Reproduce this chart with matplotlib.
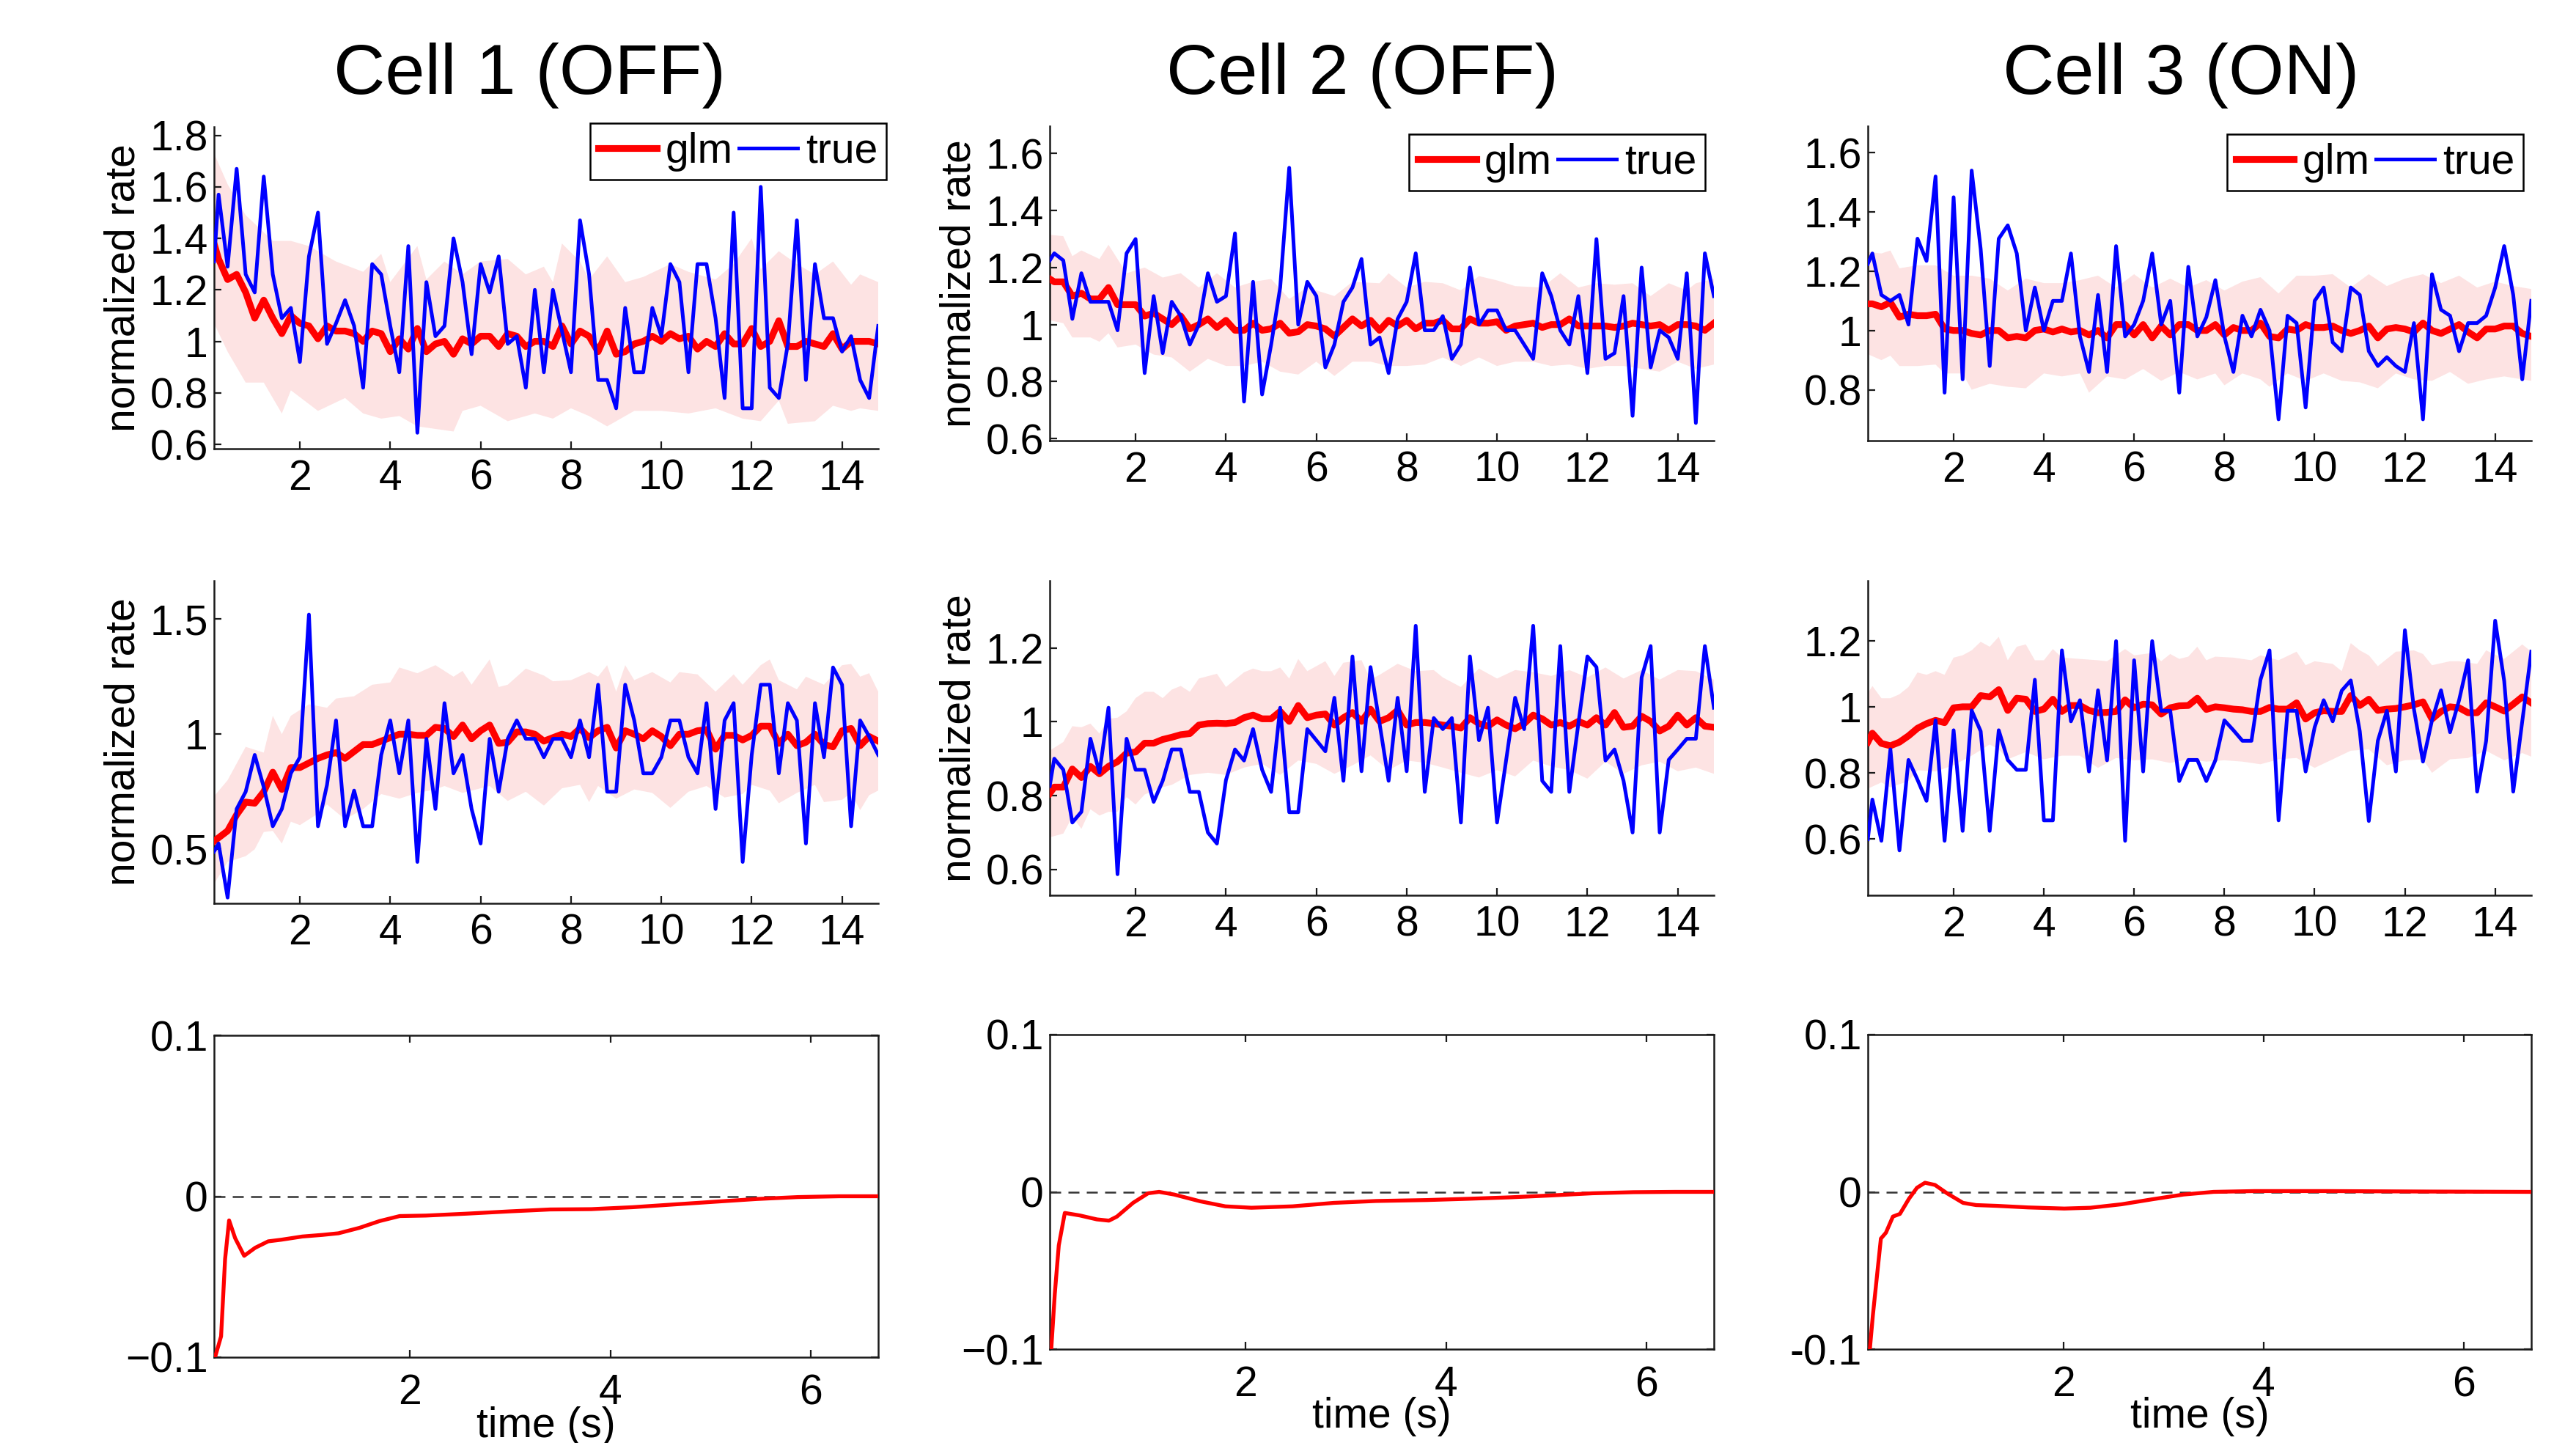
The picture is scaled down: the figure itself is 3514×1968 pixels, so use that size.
import numpy as np
import matplotlib
matplotlib.use("Agg")
import matplotlib.pyplot as plt

plt.rcParams['font.family'] = ['Liberation Sans', 'DejaVu Sans']

# ---------------- data ----------------
cell_titles = ["Cell 1 (OFF)", "Cell 2 (OFF)", "Cell 3 (ON)"]

# rate-plot time grid (s): first value at left axis edge, then every 0.2 s
rate_time = [0.1] + [round(0.2 * k, 1) for k in range(1, 75)]

# ---- Cell 1, top row ----
true_c1_top = [1.31, 1.57, 1.29, 1.67, 1.26, 1.19, 1.64, 1.26, 1.09, 1.13,
               0.92, 1.33, 1.50, 0.99, 1.07, 1.16, 1.06, 0.82, 1.30, 1.26,
               1.06, 0.88, 1.37, 0.645, 1.23, 1.02, 1.06, 1.40, 1.23, 0.95,
               1.30, 1.19, 1.33, 0.99, 1.02, 0.82, 1.20, 0.88, 1.20, 1.04,
               0.88, 1.47, 1.26, 0.85, 0.85, 0.74, 1.13, 0.88, 0.88, 1.13,
               1.02, 1.30, 1.23, 0.88, 1.30, 1.30, 1.09, 0.78, 1.50, 0.74,
               0.74, 1.60, 0.82, 0.78, 0.99, 1.47, 0.85, 1.30, 1.09, 1.09,
               0.96, 1.02, 0.85, 0.78, 1.06]
glm_c1_top = [1.38, 1.32, 1.24, 1.26, 1.19, 1.09, 1.16, 1.09, 1.03, 1.10,
              1.07, 1.06, 1.01, 1.06, 1.04, 1.04, 1.03, 1.00, 1.04, 1.03,
              0.96, 1.01, 0.97, 1.05, 0.96, 0.99, 1.00, 0.95, 1.01, 0.99,
              1.02, 1.02, 0.98, 1.03, 1.02, 0.98, 1.00, 1.00, 0.98, 1.06,
              0.99, 1.04, 1.02, 0.96, 1.04, 0.95, 0.96, 0.99, 1.00, 1.02,
              1.00, 1.03, 1.01, 1.02, 0.97, 1.00, 0.98, 1.03, 0.99, 0.99,
              1.05, 0.98, 1.00, 1.08, 0.98, 0.98, 1.00, 0.99, 0.98, 1.03,
              0.97, 1.00, 1.00, 1.00, 0.99]
upper_c1_top = [(0.1, 1.73), (0.4, 1.61), (0.8, 1.49), (1.4, 1.39), (1.8, 1.39), (2.2, 1.37),
                (2.8, 1.31), (3.4, 1.27), (3.8, 1.34), (4.0, 1.23), (4.6, 1.37), (4.8, 1.24),
                (5.2, 1.31), (5.6, 1.26), (6.0, 1.31), (6.6, 1.32), (7.0, 1.26), (7.4, 1.29),
                (7.6, 1.23), (7.8, 1.38), (8.2, 1.31), (8.4, 1.24), (8.8, 1.33), (9.2, 1.23),
                (9.6, 1.25), (10.2, 1.30), (10.6, 1.27), (11.2, 1.24), (11.6, 1.30), (12.0, 1.40),
                (12.2, 1.28), (12.6, 1.35), (13.0, 1.30), (13.4, 1.26), (13.8, 1.31), (14.2, 1.22),
                (14.4, 1.26), (14.8, 1.23)]
lower_c1_top = [(0.1, 1.07), (0.4, 0.96), (0.8, 0.84), (1.2, 0.84), (1.6, 0.72), (1.8, 0.81),
                (2.4, 0.73), (3.0, 0.78), (3.4, 0.72), (3.8, 0.70), (4.2, 0.71), (4.6, 0.67),
                (5.0, 0.66), (5.4, 0.65), (5.6, 0.73), (6.0, 0.75), (6.6, 0.69), (7.2, 0.72),
                (7.6, 0.70), (8.0, 0.74), (8.4, 0.71), (8.8, 0.67), (9.4, 0.73), (10.0, 0.73),
                (10.6, 0.72), (11.2, 0.74), (11.8, 0.70), (12.2, 0.69), (12.6, 0.77), (12.8, 0.68),
                (13.4, 0.69), (13.8, 0.75), (14.2, 0.73), (14.4, 0.74), (14.8, 0.73)]

# ---- Cell 2, top row ----
true_c2_top = [1.225, 1.25, 1.225, 1.02, 1.18, 1.08, 1.08, 1.08, 0.98, 1.25,
               1.30, 0.83, 1.10, 0.90, 1.08, 1.03, 0.93, 1.00, 1.18, 1.08,
               1.10, 1.32, 0.73, 1.15, 0.755, 0.93, 1.13, 1.55, 1.00, 1.15,
               1.10, 0.85, 0.93, 1.08, 1.13, 1.23, 0.93, 0.955, 0.83, 1.02,
               1.08, 1.25, 0.98, 0.98, 1.03, 0.88, 0.93, 1.20, 1.00, 1.05,
               1.05, 0.98, 0.98, 0.93, 0.88, 1.18, 1.10, 0.98, 0.93, 1.10,
               0.83, 1.30, 0.88, 0.90, 1.10, 0.68, 1.20, 0.85, 0.98, 0.955,
               0.88, 1.18, 0.655, 1.25, 1.10]
glm_c2_top = [1.16, 1.15, 1.15, 1.10, 1.11, 1.09, 1.09, 1.13, 1.07, 1.07,
              1.07, 1.03, 1.04, 1.02, 1.00, 1.03, 0.985, 1.00, 1.02, 0.99,
              1.015, 0.98, 0.98, 1.005, 0.98, 0.985, 1.005, 0.97, 0.975, 1.00,
              0.995, 0.985, 0.96, 0.99, 1.02, 0.995, 1.015, 0.98, 1.015, 0.995,
              1.015, 0.985, 1.005, 1.005, 1.015, 0.985, 0.985, 1.02, 1.005, 1.005,
              1.01, 0.98, 0.995, 1.00, 1.005, 0.99, 1.00, 1.00, 1.02, 0.995,
              0.995, 0.995, 0.995, 0.99, 0.995, 1.005, 1.00, 0.995, 1.00, 0.98,
              1.00, 1.00, 0.995, 0.98, 1.005]
upper_c2_top = [(0.1, 1.315), (0.4, 1.31), (0.6, 1.24), (0.8, 1.26), (1.2, 1.23), (1.4, 1.28),
                (1.8, 1.18), (2.2, 1.20), (2.6, 1.165), (3.0, 1.18), (3.4, 1.13), (3.8, 1.18),
                (4.2, 1.13), (4.6, 1.15), (5.0, 1.16), (5.4, 1.09), (5.8, 1.13), (6.4, 1.10),
                (6.8, 1.15), (7.4, 1.145), (7.6, 1.18), (8.0, 1.13), (8.4, 1.15), (8.8, 1.145),
                (9.2, 1.12), (9.6, 1.17), (10.0, 1.155), (10.4, 1.135), (11.0, 1.13), (11.4, 1.18),
                (11.8, 1.13), (12.2, 1.145), (12.6, 1.14), (13.0, 1.145), (13.4, 1.10), (13.8, 1.145),
                (14.2, 1.12), (14.4, 1.145), (14.8, 1.16)]
lower_c2_top = [(0.1, 1.015), (0.4, 1.005), (0.6, 0.955), (1.0, 0.955), (1.2, 0.94), (1.4, 0.97),
                (1.6, 0.92), (2.0, 0.93), (2.4, 0.895), (2.8, 0.885), (3.2, 0.835), (3.6, 0.88),
                (4.0, 0.855), (4.4, 0.855), (4.8, 0.87), (5.2, 0.835), (5.6, 0.825), (6.0, 0.87),
                (6.4, 0.82), (6.8, 0.87), (7.2, 0.87), (7.6, 0.855), (8.0, 0.855), (8.4, 0.86),
                (8.8, 0.885), (9.2, 0.855), (9.6, 0.885), (10.0, 0.855), (10.4, 0.87), (10.8, 0.87),
                (11.2, 0.855), (11.6, 0.86), (12.0, 0.845), (12.4, 0.855), (12.8, 0.855), (13.2, 0.845),
                (13.6, 0.835), (14.0, 0.87), (14.4, 0.845), (14.8, 0.86)]

# ---- Cell 3, top row ----
true_c3_top = [1.225, 1.26, 1.12, 1.10, 1.12, 1.02, 1.31, 1.235, 1.52, 0.79,
               1.45, 0.835, 1.54, 1.275, 0.88, 1.31, 1.355, 1.26, 1.00, 1.145,
               1.00, 1.10, 1.10, 1.26, 0.98, 0.86, 1.12, 0.86, 1.285, 0.98,
               1.02, 1.10, 1.26, 1.02, 1.10, 0.79, 1.215, 0.98, 1.045, 1.17,
               0.98, 0.86, 1.05, 0.98, 1.07, 1.00, 0.70, 1.05, 1.025, 0.74,
               1.10, 1.145, 0.96, 0.93, 1.145, 1.12, 0.93, 0.88, 0.91, 0.88,
               0.86, 1.025, 0.70, 1.19, 1.07, 1.05, 0.93, 1.025, 1.025, 1.05,
               1.145, 1.285, 1.12, 0.835, 1.10]
glm_c3_top = [1.09, 1.09, 1.08, 1.095, 1.045, 1.055, 1.05, 1.05, 1.055, 1.005,
              1.00, 1.00, 0.99, 0.985, 1.00, 1.00, 0.975, 0.98, 0.975, 1.00,
              1.005, 0.995, 1.005, 0.995, 1.00, 0.985, 1.00, 0.975, 1.02, 1.02,
              0.985, 1.02, 0.975, 1.015, 0.985, 1.02, 1.02, 1.00, 1.00, 1.02,
              0.985, 1.01, 1.00, 1.00, 1.025, 0.98, 0.975, 1.005, 1.00, 1.02,
              1.01, 1.01, 1.015, 1.00, 0.99, 1.00, 1.015, 0.975, 1.005, 1.01,
              1.005, 0.995, 1.025, 1.00, 0.99, 1.005, 1.02, 0.995, 0.975, 1.005,
              1.005, 1.015, 1.015, 0.99, 0.98]
upper_c3_top = [(0.1, 1.265), (0.4, 1.26), (0.6, 1.27), (0.8, 1.21), (1.2, 1.22), (1.6, 1.22),
                (2.0, 1.185), (2.4, 1.185), (2.8, 1.175), (3.2, 1.135), (3.6, 1.175), (4.0, 1.16),
                (4.4, 1.16), (4.8, 1.17), (5.2, 1.185), (5.6, 1.145), (6.0, 1.19), (6.4, 1.145),
                (6.8, 1.175), (7.2, 1.145), (7.6, 1.17), (8.0, 1.135), (8.4, 1.165), (8.8, 1.18),
                (9.2, 1.125), (9.6, 1.185), (10.0, 1.185), (10.4, 1.19), (10.8, 1.145), (11.2, 1.19),
                (11.6, 1.15), (12.0, 1.175), (12.4, 1.19), (12.8, 1.16), (13.2, 1.185), (13.6, 1.145),
                (14.0, 1.165), (14.4, 1.15), (14.8, 1.14)]
lower_c3_top = [(0.1, 0.92), (0.4, 0.90), (0.6, 0.915), (0.8, 0.88), (1.2, 0.88), (1.6, 0.885),
                (1.8, 0.855), (2.2, 0.855), (2.4, 0.80), (2.8, 0.82), (3.2, 0.81), (3.6, 0.805),
                (4.0, 0.855), (4.4, 0.845), (4.8, 0.855), (5.0, 0.79), (5.4, 0.845), (5.8, 0.835),
                (6.2, 0.87), (6.6, 0.83), (7.0, 0.86), (7.4, 0.835), (7.8, 0.855), (8.0, 0.815),
                (8.4, 0.855), (8.8, 0.835), (9.0, 0.81), (9.4, 0.855), (9.8, 0.83), (10.2, 0.855),
                (10.6, 0.83), (11.0, 0.825), (11.4, 0.805), (11.8, 0.855), (12.2, 0.835), (12.6, 0.83),
                (13.0, 0.86), (13.4, 0.82), (13.8, 0.835), (14.2, 0.845), (14.6, 0.835), (14.8, 0.83)]

# ---- Cell 1, middle row ----
true_c1_mid = [0.49, 0.525, 0.29, 0.675, 0.75, 0.91, 0.77, 0.60, 0.675, 0.83,
               0.90, 1.52, 0.60, 0.78, 1.06, 0.60, 0.755, 0.60, 0.60, 0.91,
               1.06, 0.83, 1.06, 0.445, 0.98, 0.675, 1.135, 0.83, 0.91, 0.675,
               0.525, 0.98, 0.75, 0.98, 1.06, 0.98, 0.98, 0.90, 0.98, 0.98,
               0.90, 1.06, 0.90, 1.215, 0.75, 0.75, 1.215, 1.06, 0.83, 0.83,
               0.90, 1.06, 1.06, 0.90, 0.83, 1.135, 0.675, 1.06, 1.135, 0.445,
               0.91, 1.215, 1.215, 0.83, 1.135, 1.06, 0.525, 1.135, 0.90, 1.29,
               1.215, 0.60, 1.06, 0.99, 0.91]
glm_c1_mid = [0.535, 0.55, 0.58, 0.65, 0.705, 0.70, 0.75, 0.835, 0.76, 0.855,
              0.855, 0.875, 0.895, 0.91, 0.92, 0.895, 0.925, 0.955, 0.955, 0.97,
              0.985, 1.00, 1.00, 0.995, 0.995, 1.03, 1.025, 0.99, 1.04, 0.98,
              1.015, 1.04, 0.96, 0.965, 1.01, 1.01, 1.00, 0.97, 0.985, 1.00,
              0.99, 1.025, 0.985, 1.015, 1.03, 0.94, 1.015, 1.00, 0.98, 1.015,
              0.99, 0.95, 1.00, 1.00, 1.015, 1.02, 0.935, 0.995, 0.995, 0.975,
              0.995, 1.035, 1.035, 0.96, 1.00, 0.95, 0.965, 1.00, 0.955, 0.945,
              1.015, 1.025, 0.95, 0.99, 0.97]
upper_c1_mid = [(0.1, 0.73), (0.4, 0.80), (0.8, 0.945), (1.2, 0.92), (1.4, 1.08), (1.6, 1.00),
                (1.8, 1.08), (2.2, 1.13), (2.6, 1.115), (2.8, 1.155), (3.2, 1.165), (3.6, 1.215),
                (4.0, 1.225), (4.2, 1.29), (4.6, 1.265), (5.0, 1.30), (5.4, 1.25), (5.6, 1.275),
                (5.8, 1.215), (6.2, 1.325), (6.4, 1.205), (6.6, 1.215), (7.0, 1.285), (7.4, 1.255),
                (7.6, 1.23), (8.0, 1.235), (8.4, 1.27), (8.6, 1.25), (8.8, 1.30), (9.0, 1.185),
                (9.2, 1.30), (9.4, 1.235), (9.8, 1.27), (10.2, 1.225), (10.4, 1.27), (10.8, 1.26),
                (11.2, 1.185), (11.6, 1.26), (11.8, 1.215), (12.2, 1.30), (12.4, 1.325), (12.6, 1.235),
                (13.0, 1.195), (13.2, 1.25), (13.6, 1.215), (14.0, 1.30), (14.2, 1.305), (14.4, 1.25),
                (14.6, 1.265), (14.8, 1.185)]
lower_c1_mid = [(0.1, 0.35), (0.4, 0.445), (0.8, 0.47), (1.0, 0.50), (1.2, 0.575), (1.4, 0.58),
                (1.6, 0.525), (1.8, 0.62), (2.0, 0.605), (2.4, 0.655), (2.6, 0.695), (3.0, 0.63),
                (3.4, 0.675), (3.8, 0.74), (4.2, 0.72), (4.6, 0.745), (5.0, 0.76), (5.2, 0.775),
                (5.6, 0.745), (6.0, 0.765), (6.2, 0.775), (6.6, 0.71), (7.0, 0.75), (7.4, 0.69),
                (7.8, 0.765), (8.2, 0.78), (8.4, 0.705), (8.6, 0.775), (9.0, 0.72), (9.4, 0.76),
                (9.8, 0.745), (10.2, 0.68), (10.6, 0.75), (11.0, 0.775), (11.4, 0.725), (11.8, 0.74),
                (12.0, 0.78), (12.4, 0.755), (12.6, 0.70), (13.0, 0.745), (13.4, 0.78), (13.6, 0.705),
                (14.0, 0.715), (14.2, 0.745), (14.4, 0.67), (14.6, 0.735), (14.8, 0.755)]

# ---- Cell 2, middle row ----
true_c2_mid = [0.826, 0.90, 0.87, 0.727, 0.756, 0.954, 0.862, 1.038, 0.587, 0.954,
               0.87, 0.87, 0.783, 0.84, 0.925, 0.925, 0.81, 0.81, 0.70, 0.67,
               0.842, 0.925, 0.895, 0.98, 0.87, 0.81, 1.038, 0.755, 0.755, 0.98,
               0.95, 0.92, 1.065, 0.84, 1.177, 0.866, 1.148, 0.995, 0.84, 1.065,
               0.866, 1.26, 0.81, 1.01, 0.98, 1.01, 0.727, 1.177, 0.95, 1.038,
               0.727, 0.895, 1.065, 0.98, 1.26, 0.84, 0.81, 1.205, 0.81, 0.995,
               1.177, 1.148, 0.895, 0.925, 0.84, 0.70, 1.12, 1.205, 0.70, 0.897,
               0.925, 0.954, 0.954, 1.205, 1.038]
glm_c2_mid = [0.806, 0.823, 0.823, 0.872, 0.849, 0.879, 0.859, 0.879, 0.892, 0.915,
              0.918, 0.942, 0.942, 0.952, 0.958, 0.965, 0.968, 0.991, 0.995, 0.996,
              0.995, 0.998, 1.011, 1.018, 1.008, 1.008, 1.028, 1.001, 1.044, 1.011,
              1.018, 1.021, 0.991, 1.011, 1.025, 1.001, 1.034, 1.001, 1.011, 1.031,
              0.991, 0.998, 0.998, 0.995, 0.991, 0.988, 0.983, 1.011, 0.995, 0.988,
              1.005, 0.991, 0.981, 0.995, 1.018, 1.008, 0.991, 0.998, 0.988, 1.001,
              0.991, 1.011, 0.991, 1.025, 0.985, 0.988, 1.015, 1.001, 0.975, 0.988,
              1.018, 0.991, 1.011, 0.988, 0.985]
upper_c2_mid = [(0.1, 0.922), (0.4, 0.945), (0.6, 0.988), (0.8, 0.985), (1.0, 0.995), (1.2, 0.968),
                (1.4, 1.008), (1.6, 1.011), (1.8, 1.028), (2.0, 1.064), (2.2, 1.081), (2.4, 1.081),
                (2.6, 1.064), (2.8, 1.087), (3.0, 1.097), (3.2, 1.081), (3.4, 1.117), (3.8, 1.13),
                (4.0, 1.094), (4.4, 1.134), (4.6, 1.144), (4.8, 1.137), (5.0, 1.137), (5.2, 1.147),
                (5.4, 1.117), (5.6, 1.17), (5.8, 1.137), (6.2, 1.164), (6.4, 1.124), (6.6, 1.16),
                (7.0, 1.167), (7.2, 1.114), (7.4, 1.127), (7.8, 1.157), (8.2, 1.137), (8.6, 1.14),
                (8.8, 1.12), (9.2, 1.094), (9.6, 1.144), (10.0, 1.117), (10.4, 1.14), (10.8, 1.134),
                (11.2, 1.124), (11.6, 1.14), (12.0, 1.12), (12.4, 1.147), (12.8, 1.117), (13.2, 1.14),
                (13.6, 1.114), (14.0, 1.14), (14.4, 1.137), (14.8, 1.114)]
lower_c2_mid = [(0.1, 0.687), (0.4, 0.697), (0.6, 0.743), (0.8, 0.71), (1.0, 0.763), (1.2, 0.746),
                (1.4, 0.756), (1.6, 0.756), (1.8, 0.796), (2.0, 0.776), (2.2, 0.803), (2.6, 0.823),
                (2.8, 0.829), (3.2, 0.856), (3.6, 0.862), (4.0, 0.856), (4.4, 0.876), (4.8, 0.886),
                (5.2, 0.856), (5.6, 0.895), (6.0, 0.886), (6.4, 0.859), (6.8, 0.882), (7.2, 0.909),
                (7.6, 0.869), (8.0, 0.895), (8.4, 0.889), (8.8, 0.876), (9.2, 0.862), (9.6, 0.849),
                (10.0, 0.869), (10.4, 0.852), (10.8, 0.895), (11.2, 0.879), (11.6, 0.869), (12.0, 0.846),
                (12.4, 0.892), (12.8, 0.859), (13.2, 0.882), (13.6, 0.892), (14.0, 0.866), (14.4, 0.876),
                (14.8, 0.859)]

# ---- Cell 3, middle row ----
true_c3_mid = [0.60, 0.72, 0.595, 0.872, 0.566, 0.84, 0.78, 0.716, 0.96, 0.595,
               0.93, 0.625, 0.99, 0.927, 0.625, 0.93, 0.84, 0.81, 0.81, 1.083,
               0.657, 0.657, 1.172, 0.957, 1.021, 0.805, 1.051, 0.839, 1.20, 0.595,
               1.142, 0.805, 1.20, 0.989, 0.989, 0.776, 0.84, 0.84, 0.776, 0.839,
               0.96, 0.93, 0.898, 0.898, 1.083, 1.172, 0.657, 0.989, 0.989, 0.805,
               0.939, 1.021, 0.957, 1.05, 1.081, 0.927, 0.655, 0.898, 0.989, 0.805,
               1.233, 0.994, 0.835, 0.96, 1.051, 0.924, 1.021, 1.142, 0.744, 0.898,
               1.262, 1.079, 0.744, 0.957, 1.168]
glm_c3_mid = [0.894, 0.921, 0.89, 0.883, 0.894, 0.913, 0.936, 0.95, 0.96, 0.953,
              0.998, 1.001, 1.001, 1.035, 1.031, 1.053, 0.99, 1.027, 1.024, 0.987,
              0.994, 1.024, 0.987, 1.005, 1.005, 0.99, 0.983, 0.984, 0.987, 1.022,
              0.998, 1.009, 1.007, 0.979, 0.998, 1.004, 1.005, 1.027, 0.993, 1.001,
              0.998, 0.994, 0.992, 0.987, 0.987, 0.999, 0.994, 0.994, 1.013, 0.964,
              0.983, 0.989, 0.987, 0.987, 1.035, 1.005, 1.024, 0.99, 0.994, 0.996,
              1.001, 1.007, 1.016, 0.964, 0.987, 1.001, 0.998, 0.983, 0.983, 1.013,
              1.001, 0.988, 1.009, 1.031, 1.013]
upper_c3_mid = [(0.1, 1.042), (0.2, 1.064), (0.4, 1.027), (0.6, 1.027), (0.8, 1.039), (1.0, 1.061),
                (1.2, 1.105), (1.4, 1.098), (1.6, 1.109), (1.8, 1.098), (2.0, 1.15), (2.2, 1.157),
                (2.4, 1.172), (2.6, 1.198), (2.8, 1.183), (3.0, 1.213), (3.2, 1.142), (3.4, 1.183),
                (3.6, 1.19), (3.8, 1.142), (4.0, 1.142), (4.2, 1.176), (4.4, 1.15), (4.8, 1.146),
                (5.2, 1.142), (5.4, 1.139), (5.8, 1.176), (6.0, 1.157), (6.4, 1.164), (6.6, 1.139),
                (6.8, 1.161), (7.0, 1.146), (7.2, 1.153), (7.4, 1.183), (7.6, 1.142), (7.8, 1.153),
                (8.2, 1.15), (8.6, 1.142), (8.8, 1.157), (9.2, 1.142), (9.6, 1.168), (9.8, 1.127),
                (10.0, 1.139), (10.4, 1.131), (10.6, 1.109), (10.8, 1.194), (11.0, 1.172), (11.2, 1.157),
                (11.4, 1.124), (11.8, 1.168), (12.2, 1.172), (12.4, 1.161), (12.6, 1.127), (13.0, 1.139),
                (13.2, 1.139), (13.6, 1.131), (13.8, 1.172), (14.2, 1.146), (14.6, 1.19), (14.8, 1.168)]
lower_c3_mid = [(0.1, 0.753), (0.4, 0.772), (0.6, 0.757), (1.0, 0.776), (1.2, 0.809), (1.6, 0.805),
                (2.0, 0.824), (2.4, 0.853), (2.8, 0.887), (3.0, 0.872), (3.2, 0.842), (3.6, 0.864),
                (4.0, 0.842), (4.4, 0.853), (4.8, 0.853), (5.2, 0.816), (5.6, 0.846), (6.0, 0.839),
                (6.4, 0.842), (6.8, 0.831), (7.2, 0.842), (7.6, 0.835), (8.0, 0.839), (8.4, 0.835),
                (8.8, 0.827), (9.2, 0.842), (9.6, 0.846), (10.0, 0.816), (10.4, 0.842), (10.8, 0.868),
                (11.2, 0.872), (11.6, 0.824), (12.0, 0.839), (12.4, 0.842), (12.6, 0.801), (13.0, 0.842),
                (13.4, 0.846), (13.8, 0.868), (14.2, 0.839), (14.6, 0.861), (14.8, 0.85)]

# ---- bottom row: filter curves ----
filt_t_c1 = [0.06, 0.12, 0.16, 0.20, 0.26, 0.35, 0.46, 0.59, 0.72, 0.93, 1.13, 1.29, 1.50, 1.70,
             1.90, 2.16, 2.57, 2.99, 3.40, 3.81, 4.22, 4.63, 5.04, 5.46, 5.87, 6.28, 6.67]
filt_v_c1 = [-0.1, -0.087, -0.039, -0.015, -0.026, -0.037, -0.032, -0.028, -0.027, -0.025, -0.024,
             -0.023, -0.0196, -0.0154, -0.0123, -0.012, -0.0108, -0.0094, -0.0082, -0.008, -0.0068,
             -0.0051, -0.0034, -0.0017, -0.0005, 0.0, 0.0]
filt_t_c2 = [0.065, 0.10, 0.14, 0.20, 0.35, 0.52, 0.64, 0.72, 0.88, 1.03, 1.14, 1.29, 1.55, 1.80,
             2.06, 2.47, 2.88, 3.30, 3.81, 4.22, 4.63, 5.04, 5.46, 5.87, 6.28, 6.67]
filt_v_c2 = [-0.1, -0.065, -0.034, -0.0134, -0.015, -0.0175, -0.0183, -0.0157, -0.007, -0.0009, 0.0,
             -0.0017, -0.006, -0.0092, -0.0101, -0.0092, -0.007, -0.0058, -0.0052, -0.0044, -0.0035,
             -0.0023, -0.0009, -0.0002, 0.0, 0.0]
filt_t_c3 = [0.07, 0.10, 0.18, 0.23, 0.30, 0.37, 0.46, 0.54, 0.62, 0.72, 0.84, 1.00, 1.13, 1.34,
             1.65, 2.01, 2.27, 2.58, 2.89, 3.20, 3.50, 3.91, 4.63, 5.66, 6.65]
filt_v_c3 = [-0.1, -0.0785, -0.0297, -0.026, -0.0157, -0.014, -0.0044, 0.0026, 0.0058, 0.0044,
             -0.0009, -0.007, -0.0084, -0.0089, -0.0099, -0.0106, -0.0101, -0.0079, -0.0047, -0.0017,
             0.0, 0.0005, 0.0005, 0.0002, 0.0]

legend_labels = ["glm", "true"]

# ---------------- styling ----------------
W, H = 3514, 1968
DPI = 200
FS = 20.5
BAND = '#fde3e3'
AX_COLOR = '#1a1a1a'

fig = plt.figure(figsize=(W / DPI, H / DPI), dpi=DPI)


def px_axes(left, top, right, bottom):
    return fig.add_axes([left / W, 1 - bottom / H, (right - left) / W, (bottom - top) / H])


col_x = [(292, 1198), (1432, 2338), (2548, 3453)]
top_y = [(173, 612), (172, 601), (172, 601)]
mid_y = [(792, 1232), (792, 1221), (792, 1221)]
bot_y = [(1412, 1851), (1411, 1840), (1411, 1840)]

rate_panels = [
    # (true, glm, upper, lower, ylim, yticks, yticklabels)
    [(true_c1_top, glm_c1_top, upper_c1_top, lower_c1_top, (0.583, 1.833),
      [0.6, 0.8, 1.0, 1.2, 1.4, 1.6, 1.8], ['0.6', '0.8', '1', '1.2', '1.4', '1.6', '1.8']),
     (true_c2_top, glm_c2_top, upper_c2_top, lower_c2_top, (0.593, 1.696),
      [0.6, 0.8, 1.0, 1.2, 1.4, 1.6], ['0.6', '0.8', '1', '1.2', '1.4', '1.6']),
     (true_c3_top, glm_c3_top, upper_c3_top, lower_c3_top, (0.628, 1.69),
      [0.8, 1.0, 1.2, 1.4, 1.6], ['0.8', '1', '1.2', '1.4', '1.6'])],
    [(true_c1_mid, glm_c1_mid, upper_c1_mid, lower_c1_mid, (0.265, 1.667),
      [0.5, 1.0, 1.5], ['0.5', '1', '1.5']),
     (true_c2_mid, glm_c2_mid, upper_c2_mid, lower_c2_mid, (0.53, 1.382),
      [0.6, 0.8, 1.0, 1.2], ['0.6', '0.8', '1', '1.2']),
     (true_c3_mid, glm_c3_mid, upper_c3_mid, lower_c3_mid, (0.43, 1.383),
      [0.6, 0.8, 1.0, 1.2], ['0.6', '0.8', '1', '1.2'])],
]
legend_anchor = [(1.012, 1.011), (0.987, 0.974), (0.988, 0.974)]

for r, rows_y in enumerate([top_y, mid_y]):
    for c in range(3):
        true, glm, upper, lower, ylim, yt, ytl = rate_panels[r][c]
        ax = px_axes(col_x[c][0], rows_y[c][0], col_x[c][1], rows_y[c][1])
        ut, uv = zip(*upper)
        lt, lv = zip(*lower)
        ax.fill(list(ut) + list(lt)[::-1], list(uv) + list(lv)[::-1],
                color=BAND, lw=0, zorder=1)
        l1, = ax.plot(rate_time, glm, color='#ff0000', lw=3.3, zorder=3)
        l2, = ax.plot(rate_time, true, color='#0000ff', lw=1.8, zorder=4)
        ax.set_xlim(0.1, 14.8)
        ax.set_ylim(*ylim)
        ax.set_xticks([2, 4, 6, 8, 10, 12, 14])
        ax.set_yticks(yt)
        ax.set_yticklabels(ytl)
        for s in ['top', 'right']:
            ax.spines[s].set_visible(False)
        for s in ['left', 'bottom']:
            ax.spines[s].set_color(AX_COLOR)
            ax.spines[s].set_linewidth(0.9)
        ax.tick_params(direction='in', length=3.5, width=0.8, color=AX_COLOR,
                       labelsize=FS, labelcolor='black')
        ax.tick_params(axis='x', pad=5)
        ax.tick_params(axis='y', pad=3)
        if c < 2:
            ax.set_ylabel('normalized rate', fontsize=FS)
            ax.yaxis.set_label_coords(-0.107, 0.5)
        if r == 0:
            leg = ax.legend([l1, l2], legend_labels, loc='upper right',
                            bbox_to_anchor=legend_anchor[c], borderaxespad=0,
                            ncol=2, fontsize=FS, frameon=True, fancybox=False,
                            framealpha=1, handlelength=1.4, handletextpad=0.2,
                            columnspacing=0.15, borderpad=0.2)
            leg.get_frame().set_edgecolor('black')
            leg.get_frame().set_linewidth(0.9)

filters = [(filt_t_c1, filt_v_c1, ['\u22120.1', '0', '0.1']),
           (filt_t_c2, filt_v_c2, ['\u22120.1', '0', '0.1']),
           (filt_t_c3, filt_v_c3, ['-0.1', '0', '0.1'])]
for c in range(3):
    ft, fv, ytl = filters[c]
    ax = px_axes(col_x[c][0], bot_y[c][0], col_x[c][1], bot_y[c][1])
    ax.axhline(0, color='#333333', lw=0.9, ls=(0, (6, 4)), zorder=2)
    ax.plot(ft, fv, color='#ff0000', lw=1.9, zorder=3)
    ax.set_xlim(0.05, 6.67)
    ax.set_ylim(-0.1, 0.1)
    ax.set_xticks([2, 4, 6])
    ax.set_yticks([-0.1, 0, 0.1])
    ax.set_yticklabels(ytl)
    for s in ax.spines.values():
        s.set_color(AX_COLOR)
        s.set_linewidth(0.9)
    ax.tick_params(direction='in', length=3.5, width=0.8, color=AX_COLOR,
                   labelsize=FS, top=True, right=True)
    ax.tick_params(axis='x', pad=8)
    ax.tick_params(axis='y', pad=3)
    ax.set_xlabel('time (s)', fontsize=FS)
    ax.xaxis.set_label_coords(0.5, -0.152)

title_x = [722, 1858, 2975]
for c in range(3):
    fig.text(title_x[c] / W, 1 - 103 / H, cell_titles[c], fontsize=35,
             ha='center', va='center')

fig.savefig('out.png', dpi=DPI)
